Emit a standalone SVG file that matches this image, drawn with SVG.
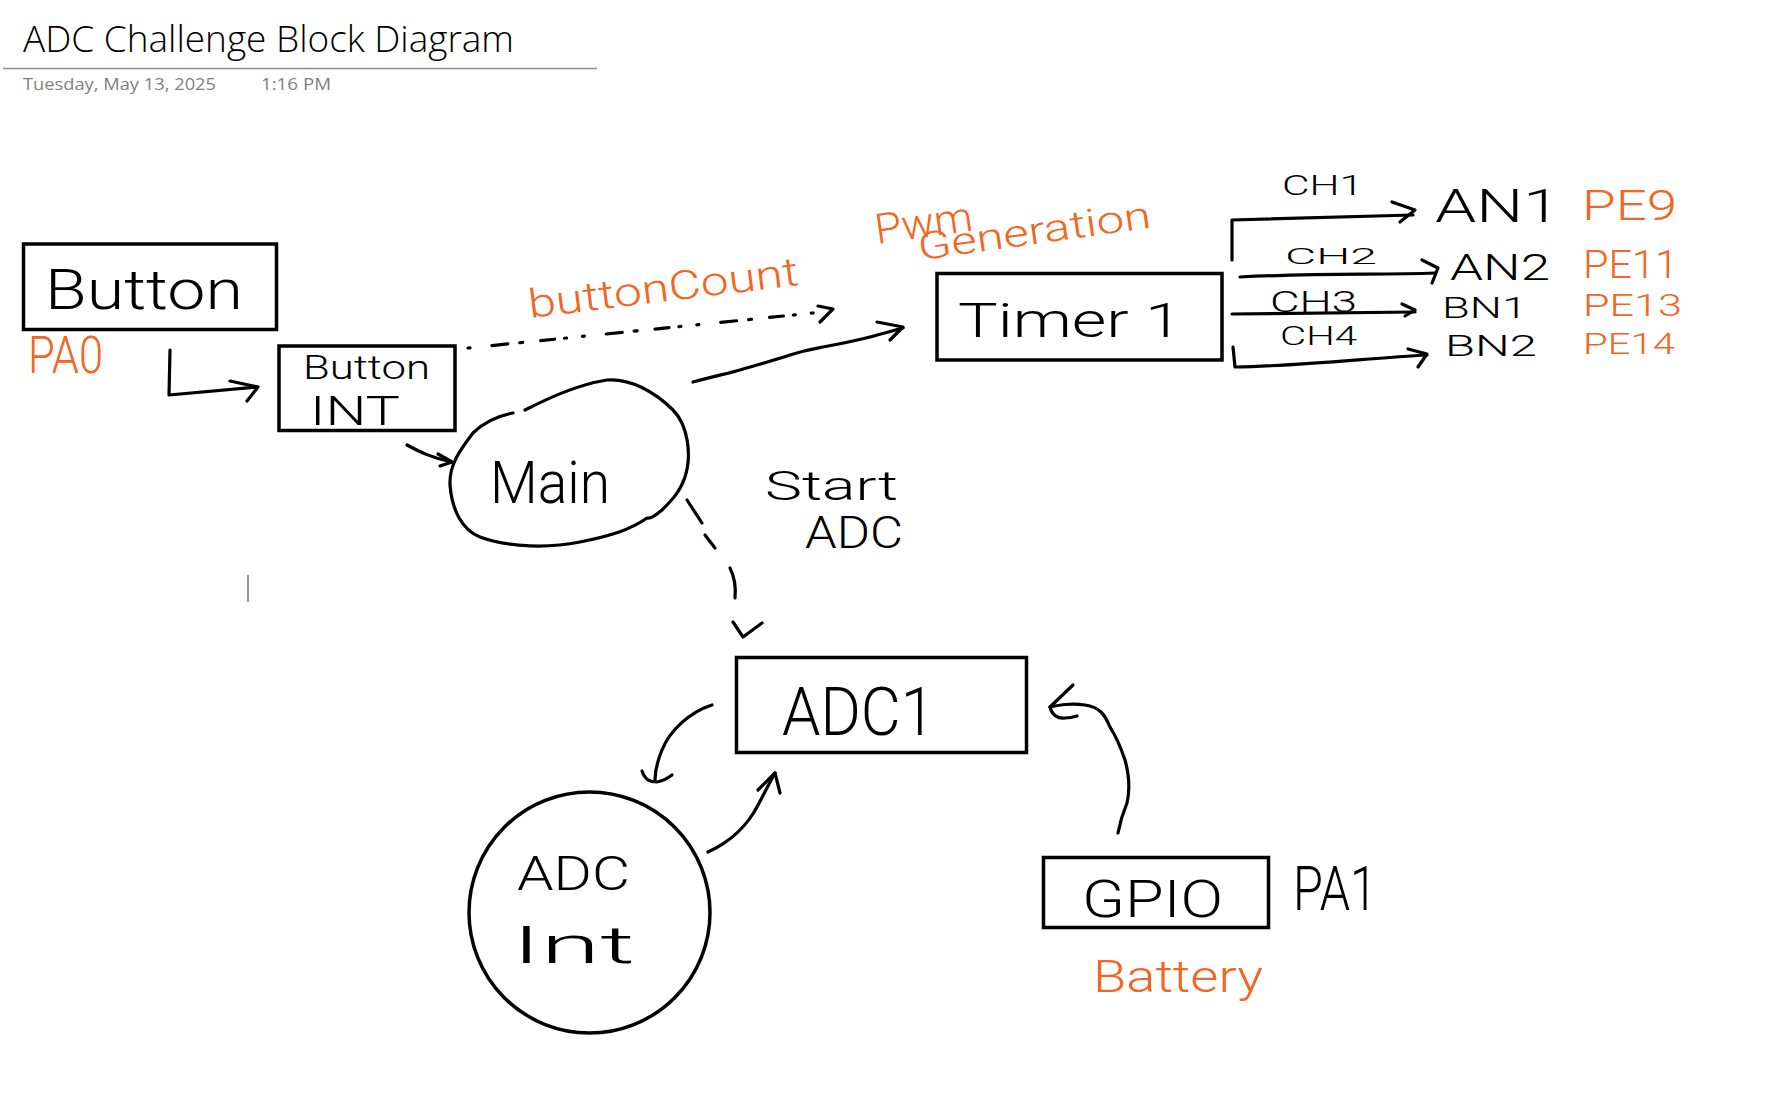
<svg xmlns="http://www.w3.org/2000/svg" width="1784" height="1098" viewBox="0 0 1784 1098">
<defs>
<style>
.box{fill:none;stroke:#000;stroke-width:3.5}
.ln{fill:none;stroke:#000;stroke-width:3.2;stroke-linecap:round;stroke-linejoin:round}
.hw{font-family:Roboto,"Liberation Sans",sans-serif;font-weight:300;fill:#000}
.or{font-family:Roboto,"Liberation Sans",sans-serif;font-weight:300;fill:#F26522}
.ttl{font-family:"Open Sans","Liberation Sans",sans-serif;font-weight:300;fill:#000}
.dt{font-family:"Open Sans","Liberation Sans",sans-serif;fill:#7f7f7f}
</style>
</defs>
<rect width="1784" height="1098" fill="#fff"/>

<g id="header">
<text class="ttl" x="23" y="52" font-size="36" textLength="491" lengthAdjust="spacingAndGlyphs">ADC Challenge Block Diagram</text>
<line x1="3" y1="68.5" x2="597" y2="68.5" stroke="#8c8c8c" stroke-width="1.5"/>
<text class="dt" x="23" y="90" font-size="17" textLength="193" lengthAdjust="spacingAndGlyphs">Tuesday, May 13, 2025</text>
<text class="dt" x="261" y="90" font-size="17" textLength="70" lengthAdjust="spacingAndGlyphs">1:16 PM</text>
</g>

<g id="node-button">
<rect class="box" x="23.5" y="244" width="253" height="85.5"/>
<text class="hw" x="45" y="309" font-size="56" textLength="198" lengthAdjust="spacingAndGlyphs">Button</text>
<text class="or" x="28" y="373" font-size="52" textLength="75" lengthAdjust="spacingAndGlyphs">PA0</text>
</g>

<g id="node-button-int">
<rect class="box" x="279" y="346" width="176" height="84.5"/>
<text class="hw"><tspan x="303" y="379" font-size="34" textLength="127" lengthAdjust="spacingAndGlyphs">Button</tspan><tspan x="310" y="425" font-size="40" textLength="90" lengthAdjust="spacingAndGlyphs">INT</tspan></text>
</g>

<g id="node-main">
<path class="ln" d="M525 410 C545 400 575 385 607 380 C630 378 655 392 673 410 C688 425 692 455 685 477 C680 492 672 500 662 510 C655 516 650 519 647 518 C630 530 610 536 580 542 C550 548 510 548 480 537 C462 530 452 510 450 485 C449 465 460 450 473 433 C483 423 497 416 513 413"/>
<text class="hw" x="490" y="503" font-size="60" textLength="120" lengthAdjust="spacingAndGlyphs">Main</text>
</g>

<g id="node-timer1">
<rect class="box" x="937" y="273.5" width="285" height="86.5"/>
<text class="hw" x="958" y="337" font-size="48" textLength="224" lengthAdjust="spacingAndGlyphs">Timer 1</text>
<text class="or" transform="rotate(-8 877 244)"><tspan x="877" y="244" font-size="42" textLength="98" lengthAdjust="spacingAndGlyphs">Pwm</tspan><tspan x="917" y="266" font-size="38" textLength="235" lengthAdjust="spacingAndGlyphs">Generation</tspan></text>
</g>

<g id="node-outputs">
<text class="hw" x="1282" y="195" font-size="27" textLength="81" lengthAdjust="spacingAndGlyphs">CH1</text>
<text class="hw" x="1435" y="222" font-size="47" textLength="125" lengthAdjust="spacingAndGlyphs">AN1</text>
<text class="or" x="1582" y="220" font-size="42" textLength="95" lengthAdjust="spacingAndGlyphs">PE9</text>
<text class="hw" x="1285" y="264" font-size="22" textLength="92" lengthAdjust="spacingAndGlyphs">CH2</text>
<text class="hw" x="1450" y="280" font-size="37" textLength="100" lengthAdjust="spacingAndGlyphs">AN2</text>
<text class="or" x="1583" y="278" font-size="38" textLength="95" lengthAdjust="spacingAndGlyphs">PE11</text>
<text class="hw" x="1270" y="312" font-size="29" textLength="87" lengthAdjust="spacingAndGlyphs">CH3</text>
<text class="hw" x="1442" y="318" font-size="29" textLength="85" lengthAdjust="spacingAndGlyphs">BN1</text>
<text class="or" x="1583" y="316" font-size="31" textLength="99" lengthAdjust="spacingAndGlyphs">PE13</text>
<text class="hw" x="1280" y="345" font-size="26" textLength="77" lengthAdjust="spacingAndGlyphs">CH4</text>
<text class="hw" x="1445" y="356" font-size="30" textLength="92" lengthAdjust="spacingAndGlyphs">BN2</text>
<text class="or" x="1583" y="354" font-size="30" textLength="92" lengthAdjust="spacingAndGlyphs">PE14</text>
</g>

<g id="node-adc1">
<rect class="box" x="736.5" y="657.5" width="290" height="95"/>
<text class="hw" x="782" y="735" font-size="66" textLength="153" lengthAdjust="spacingAndGlyphs">ADC1</text>
</g>

<g id="node-adc-int">
<circle class="box" cx="589.5" cy="912.5" r="120.5"/>
<text class="hw"><tspan x="517" y="890" font-size="48" textLength="113" lengthAdjust="spacingAndGlyphs">ADC</tspan><tspan x="512" y="963" font-size="52" textLength="123" lengthAdjust="spacingAndGlyphs">Int</tspan></text>
</g>

<g id="node-gpio">
<rect class="box" x="1043.5" y="857.5" width="225" height="70"/>
<text class="hw" x="1082" y="917" font-size="52" textLength="141" lengthAdjust="spacingAndGlyphs">GPIO</text>
<text class="hw" x="1293" y="910" font-size="62" textLength="84" lengthAdjust="spacingAndGlyphs">PA1</text>
<text class="or" x="1093" y="992" font-size="44" textLength="170" lengthAdjust="spacingAndGlyphs">Battery</text>
</g>

<g id="labels">
<text class="or" x="530" y="318" font-size="40" textLength="272" lengthAdjust="spacingAndGlyphs" transform="rotate(-7 530 318)">buttonCount</text>
<text class="hw"><tspan x="765" y="500" font-size="40" textLength="133" lengthAdjust="spacingAndGlyphs">Start</tspan><tspan x="805" y="548" font-size="44" textLength="98" lengthAdjust="spacingAndGlyphs">ADC</tspan></text>
</g>

<g id="connectors">
<path class="ln" d="M170 350 L169 395 L257 387"/>
<path class="ln" d="M230 381 L258 387 L247 401"/>
<path class="ln" d="M407 445 C420 452 432 458 452 462"/>
<path class="ln" d="M438 454 L452 462 L440 466"/>
<path class="ln" d="M468 348 L833 311" stroke-dasharray="2 22 16 12 3 18 14 10 2 16" stroke-width="2.5"/>
<path class="ln" d="M818 306 L833 309 L820 322" stroke-width="2.5"/>
<path class="ln" d="M693 382 C715 376 730 373 740 370 C760 364 775 360 790 355 C805 350 812 349 823 347 C845 343 858 340 870 337 C885 333 895 330 903 328"/>
<path class="ln" d="M877 322 L903 327 L890 340"/>
<path class="ln" d="M1232 260 L1232 220 L1413 215"/>
<path class="ln" d="M1392 202 L1415 210 L1400 222"/>
<path class="ln" d="M1240 277 C1320 273 1380 275 1435 273"/>
<path class="ln" d="M1422 260 L1438 268 L1432 283"/>
<path class="ln" d="M1232 314 L1415 312"/>
<path class="ln" d="M1402 304 L1415 310 L1405 316"/>
<path class="ln" d="M1233 347 L1235 367 C1300 366 1370 358 1427 355"/>
<path class="ln" d="M1408 349 L1427 354 L1418 367"/>
<path class="ln" d="M687 500 L702 523"/>
<path class="ln" d="M705 535 L715 548"/>
<path class="ln" d="M730 568 C735 578 736 588 735 598"/>
<path class="ln" d="M733 622 L743 637 L762 623"/>
<path class="ln" d="M712 705 C690 712 670 730 662 750 C657 762 655 770 655 780"/>
<path class="ln" d="M642 771 C645 780 650 782 657 782 C663 781 668 778 672 775"/>
<path class="ln" d="M708 852 C730 842 748 825 758 805 C765 792 770 782 775 773"/>
<path class="ln" d="M758 790 L775 773 L780 793"/>
<path class="ln" d="M1118 833 C1120 822 1122 815 1127 803 C1130 790 1130 778 1125 760 C1120 745 1115 735 1110 727 C1105 715 1100 707 1085 705 C1070 703 1060 705 1050 707"/>
<path class="ln" d="M1073 685 L1050 707 C1052 715 1058 719 1065 718 C1070 718 1074 717 1077 716"/>
</g>

<line x1="248" y1="575" x2="248" y2="602" stroke="#555" stroke-width="1.2"/>
</svg>
